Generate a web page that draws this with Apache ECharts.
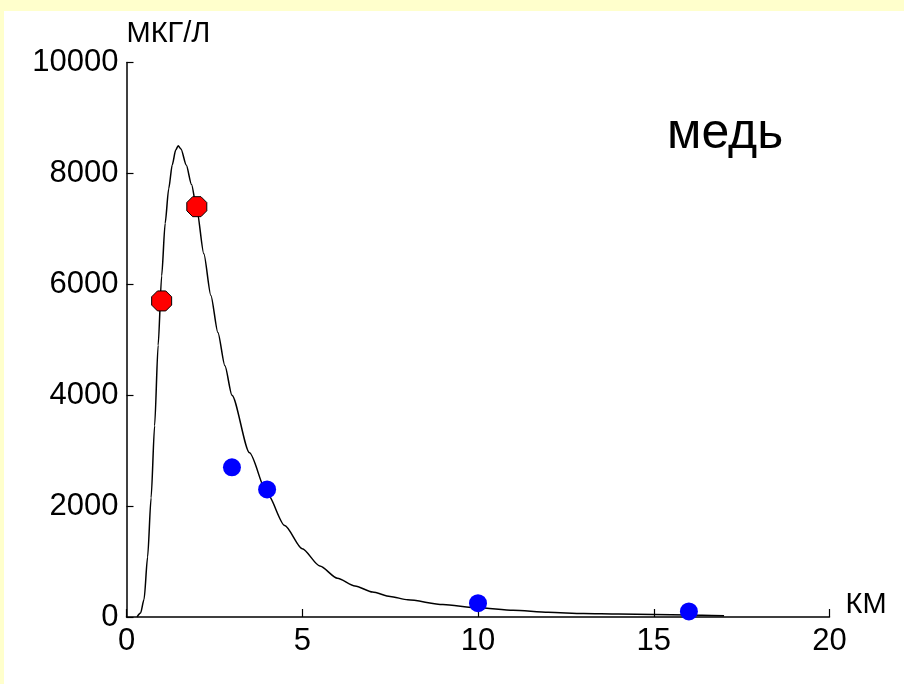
<!DOCTYPE html>
<html>
<head>
<meta charset="utf-8">
<script src="https://cdn.jsdelivr.net/npm/echarts@6/dist/echarts.min.js"></script>
<style>
  html, body { margin: 0; padding: 0; width: 904px; height: 684px; background: #FFFFCC; overflow: hidden; }
  #chart { position: absolute; left: 4px; top: 11px; width: 900px; height: 673px; background: #FFFFFF; }
</style>
</head>
<body>
<div id="chart"></div>
<script>
// Fitted curve (km, мкг/л)
const curveX = [0.3, 0.4, 0.5, 0.6, 0.7, 0.8, 0.9, 1.0, 1.1, 1.2, 1.3, 1.4, 1.47, 1.55, 1.7, 1.85, 2.0, 2.2, 2.4, 2.6, 2.8, 3.0, 3.5, 4.0, 4.5, 5.0, 5.5, 6.0, 6.5, 7.0, 7.5, 8.0, 9.0, 10.0, 11.0, 12.0, 13.0, 14.0, 15.0, 16.0, 17.0];
const curveY = [0, 70, 320, 1080, 2150, 3450, 4900, 6150, 7100, 7720, 8150, 8420, 8500, 8440, 8150, 7800, 7350, 6550, 5800, 5130, 4530, 4000, 2960, 2230, 1650, 1230, 920, 700, 560, 450, 370, 310, 225, 165, 120, 85, 62, 52, 45, 38, 24];
// Measured points: red (near) and blue (far)
const redX = [1, 2];
const redY = [5700, 7400];
const blueX = [3, 4, 10, 16];
const blueY = [2700, 2300, 250, 100];
// Axis ticks
const xTicks = [0, 5, 10, 15, 20];
const yTicks = [0, 2000, 4000, 6000, 8000, 10000];
const xName = 'КМ';
const yName = 'МКГ/Л';
const titleText = 'медь';

const zip = (a, b) => a.map((v, i) => [v, b[i]]);
const FONT = '"Liberation Sans", Arial, sans-serif';
const octagon = 'path://M-0.414,-1L0.414,-1L1,-0.414L1,0.414L0.414,1L-0.414,1L-1,0.414L-1,-0.414Z';

const chart = echarts.init(document.getElementById('chart'), null, { renderer: 'canvas' });
chart.setOption({
  animation: false,
  backgroundColor: '#FFFFFF',
  title: {
    text: titleText,
    left: 658, top: 93,
    textStyle: { fontFamily: FONT, fontSize: 50, fontWeight: 'normal', color: '#000' }
  },
  grid: { left: 122.5, top: 51.5, right: 74.5, bottom: 67, containLabel: false },
  xAxis: {
    type: 'value', min: xTicks[0], max: xTicks[xTicks.length - 1], interval: 5,
    name: xName, nameLocation: 'end', nameGap: 16,
    nameTextStyle: { fontFamily: FONT, fontSize: 29, color: '#000', verticalAlign: 'bottom', align: 'left', padding: [0, 0, -2, 0] },
    axisLine: { show: true, lineStyle: { color: '#000', width: 1.5 } },
    axisTick: { show: true, inside: true, length: 8, lineStyle: { color: '#000', width: 1.2 } },
    axisLabel: { color: '#000', fontFamily: FONT, fontSize: 31, margin: 9, formatter: v => String(v) },
    splitLine: { show: false }
  },
  yAxis: {
    type: 'value', min: yTicks[0], max: yTicks[yTicks.length - 1], interval: 2000,
    name: yName, nameLocation: 'end', nameGap: 14,
    nameTextStyle: { fontFamily: FONT, fontSize: 29, color: '#000', align: 'left', verticalAlign: 'bottom' },
    axisLine: { show: true, lineStyle: { color: '#000', width: 1.5 } },
    axisTick: { show: true, inside: true, length: 7, lineStyle: { color: '#000', width: 1.2 } },
    axisLabel: { color: '#000', fontFamily: FONT, fontSize: 31, margin: 8, formatter: v => String(v) },
    splitLine: { show: false }
  },
  series: [
    {
      type: 'line', data: zip(curveX, curveY), showSymbol: false, symbol: 'none',
      smooth: 0.25, smoothMonotone: 'x',
      lineStyle: { color: '#000', width: 1.5 }, z: 2, silent: true
    },
    {
      type: 'scatter', data: zip(redX, redY), symbol: octagon, symbolSize: 20,
      itemStyle: { color: '#FF0000', borderColor: '#000', borderWidth: 1, opacity: 1 }, z: 3
    },
    {
      type: 'scatter', data: zip(blueX, blueY), symbol: 'circle', symbolSize: 18,
      itemStyle: { color: '#0000FF', opacity: 1 }, z: 3
    }
  ]
});
</script>
</body>
</html>
